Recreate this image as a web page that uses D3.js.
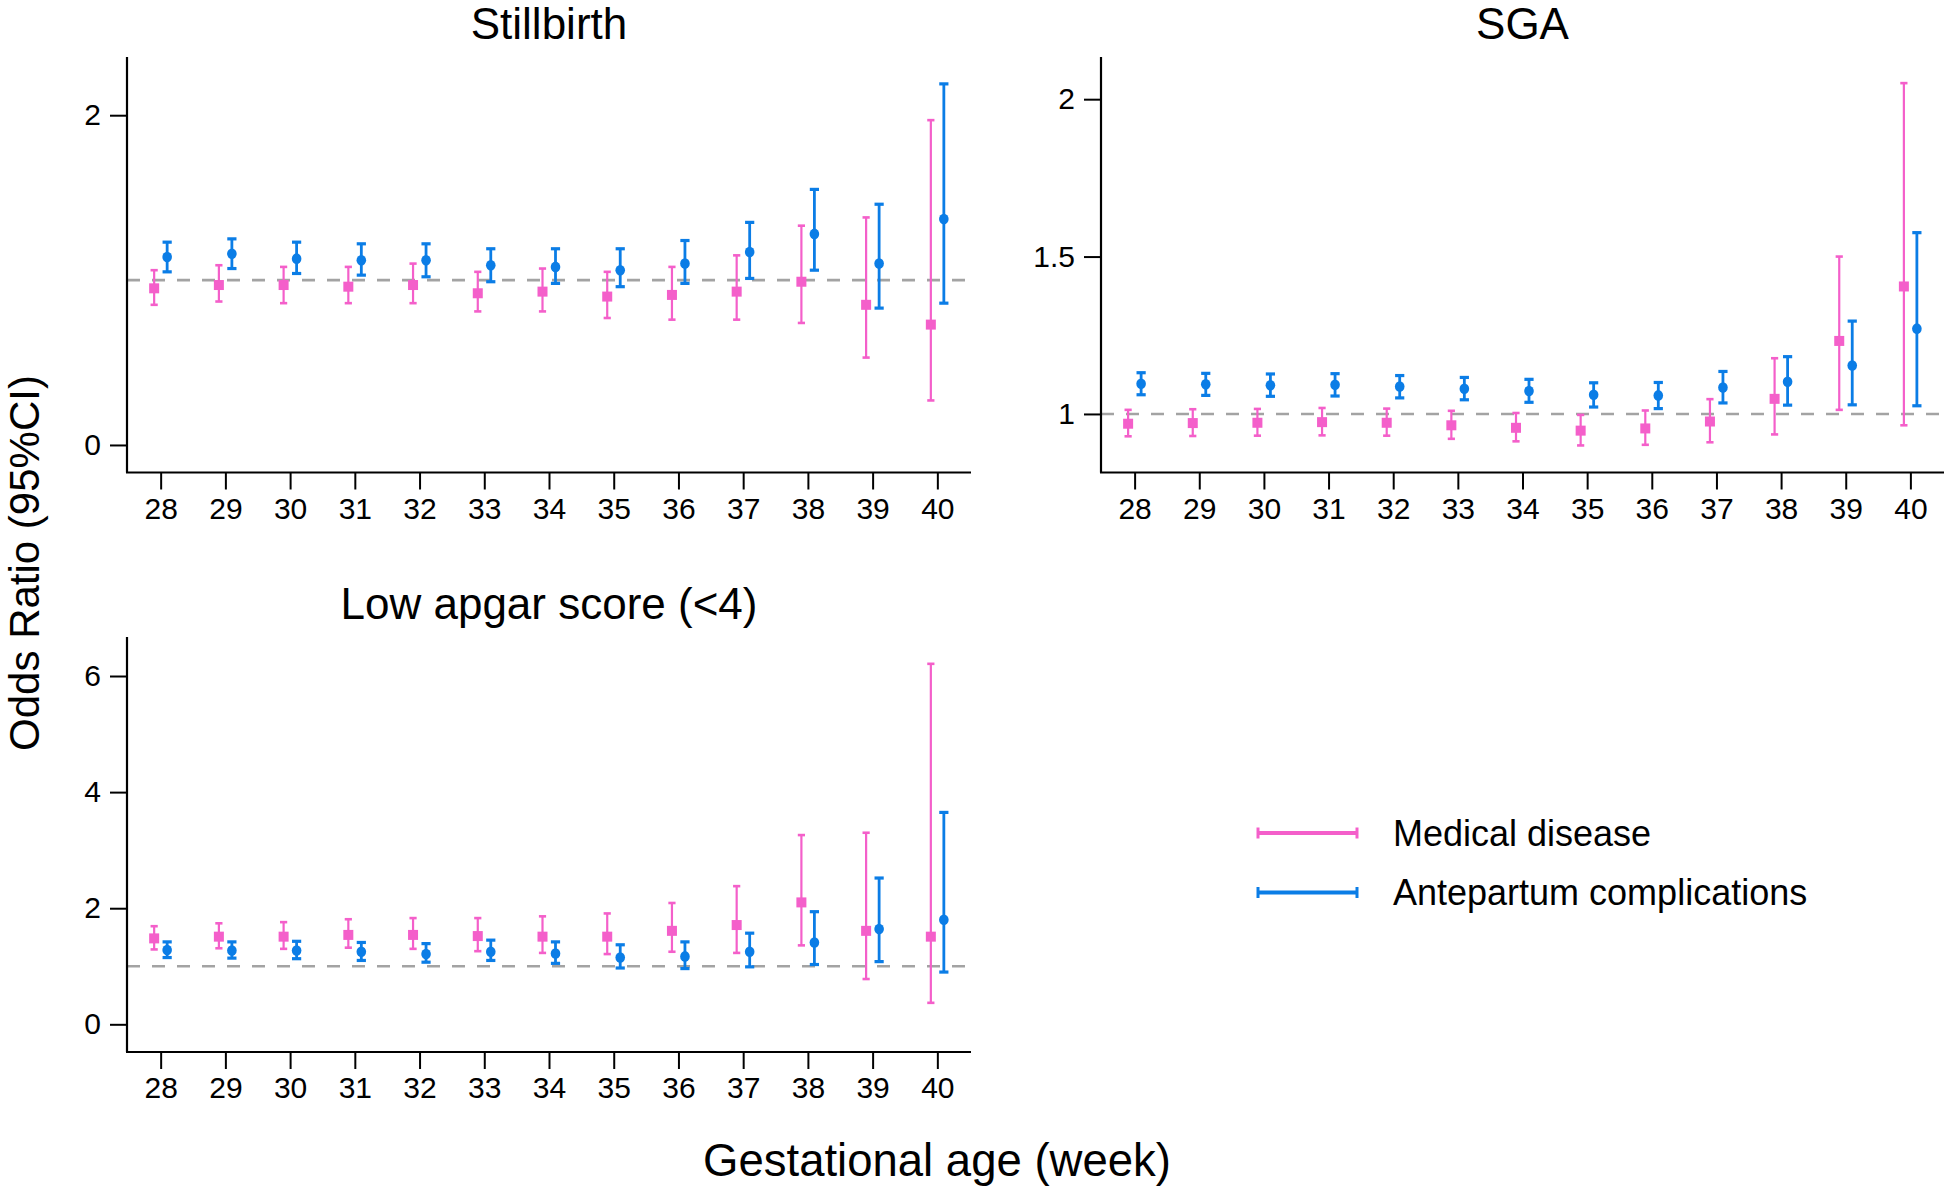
<!DOCTYPE html>
<html>
<head>
<meta charset="utf-8">
<script src="https://cdn.jsdelivr.net/npm/d3@7"></script>
<style>
  html, body { margin: 0; padding: 0; background: #fff; }
  svg text { font-family: "Liberation Sans", Arial, Helvetica, sans-serif; fill: #000; }
</style>
</head>
<body>
<svg id="chart" width="1952" height="1188"></svg>
<script>
// ---------------- DATA ----------------
const weeks = [28, 29, 30, 31, 32, 33, 34, 35, 36, 37, 38, 39, 40];
const seriesNames = ["Medical disease", "Antepartum complications"];

// Stillbirth
const stillMedOR = [0.95, 0.97, 0.97, 0.96, 0.97, 0.92, 0.93, 0.90, 0.91, 0.93, 0.99, 0.85, 0.73];
const stillMedLo = [0.85, 0.87, 0.86, 0.86, 0.86, 0.81, 0.81, 0.77, 0.76, 0.76, 0.74, 0.53, 0.27];
const stillMedHi = [1.06, 1.09, 1.08, 1.08, 1.10, 1.05, 1.07, 1.05, 1.08, 1.15, 1.33, 1.38, 1.97];
const stillAntOR = [1.14, 1.16, 1.13, 1.12, 1.12, 1.09, 1.08, 1.06, 1.10, 1.17, 1.28, 1.10, 1.37];
const stillAntLo = [1.05, 1.07, 1.04, 1.03, 1.02, 0.99, 0.98, 0.96, 0.98, 1.01, 1.06, 0.83, 0.86];
const stillAntHi = [1.23, 1.25, 1.23, 1.22, 1.22, 1.19, 1.19, 1.19, 1.24, 1.35, 1.55, 1.46, 2.19];

// SGA
const sgaMedOR = [0.969, 0.971, 0.972, 0.974, 0.972, 0.964, 0.956, 0.947, 0.954, 0.976, 1.048, 1.232, 1.405];
const sgaMedLo = [0.929, 0.930, 0.931, 0.932, 0.931, 0.921, 0.913, 0.900, 0.902, 0.910, 0.935, 1.013, 0.964];
const sgaMedHi = [1.013, 1.015, 1.016, 1.019, 1.017, 1.010, 1.003, 0.997, 1.011, 1.047, 1.177, 1.500, 2.051];
const sgaAntOR = [1.096, 1.094, 1.091, 1.093, 1.087, 1.080, 1.073, 1.061, 1.059, 1.084, 1.102, 1.154, 1.271];
const sgaAntLo = [1.061, 1.059, 1.056, 1.057, 1.051, 1.045, 1.037, 1.022, 1.017, 1.035, 1.028, 1.029, 1.026];
const sgaAntHi = [1.131, 1.129, 1.127, 1.128, 1.122, 1.116, 1.110, 1.099, 1.100, 1.135, 1.182, 1.295, 1.576];

// Low apgar score (<4)
const apgMedOR = [1.48, 1.51, 1.51, 1.54, 1.54, 1.52, 1.51, 1.51, 1.61, 1.71, 2.10, 1.61, 1.51];
const apgMedLo = [1.29, 1.31, 1.30, 1.32, 1.30, 1.26, 1.23, 1.21, 1.25, 1.23, 1.36, 0.78, 0.37];
const apgMedHi = [1.69, 1.74, 1.76, 1.81, 1.83, 1.83, 1.86, 1.91, 2.09, 2.38, 3.26, 3.30, 6.21];
const apgAntOR = [1.28, 1.27, 1.27, 1.25, 1.21, 1.25, 1.22, 1.15, 1.17, 1.25, 1.41, 1.64, 1.80];
const apgAntLo = [1.15, 1.14, 1.13, 1.10, 1.07, 1.10, 1.05, 0.97, 0.96, 0.99, 1.03, 1.08, 0.90];
const apgAntHi = [1.42, 1.42, 1.43, 1.41, 1.39, 1.45, 1.42, 1.37, 1.42, 1.57, 1.94, 2.52, 3.65];

// tick labels
const xTicks = weeks;
const yTicksStill = [0, 2];
const yTicksSGA = [1, 1.5, 2];
const yTicksApgar = [0, 2, 4, 6];

// ---------------- STYLE / LAYOUT ----------------
const PINK = "#f45fca";
const BLUE = "#0b7de6";
const FONT_TICK = 30;
const FONT_TITLE = 44;

const panels = [
  { title: "Stillbirth", left: 127, right: 971, top: 57, bottom: 472.5, ydom: [-0.167, 2.353], yticks: yTicksStill,
    med: [stillMedOR, stillMedLo, stillMedHi], ant: [stillAntOR, stillAntLo, stillAntHi] },
  { title: "SGA", left: 1101, right: 1944, top: 57, bottom: 472.5, ydom: [0.814, 2.134], yticks: yTicksSGA,
    med: [sgaMedOR, sgaMedLo, sgaMedHi], ant: [sgaAntOR, sgaAntLo, sgaAntHi] },
  { title: "Low apgar score (<4)", left: 127, right: 971, top: 637, bottom: 1052, ydom: [-0.477, 6.672], yticks: yTicksApgar,
    med: [apgMedOR, apgMedLo, apgMedHi], ant: [apgAntOR, apgAntLo, apgAntHi] }
];

const svg = d3.select("#chart");

panels.forEach(p => {
  const x = d3.scaleLinear().domain([27.48, 40.52]).range([p.left, p.right]);
  const y = d3.scaleLinear().domain(p.ydom).range([p.bottom, p.top]);
  const g = svg.append("g");

  // reference line at OR = 1
  g.append("line")
    .attr("x1", p.left).attr("x2", p.right)
    .attr("y1", y(1)).attr("y2", y(1))
    .attr("stroke", "#a3a3a3").attr("stroke-width", 2.6)
    .attr("stroke-dasharray", "13,12");

  // axes
  const xAxis = d3.axisBottom(x).tickValues(xTicks).tickFormat(d3.format("d"))
    .tickSize(17).tickSizeOuter(0).tickPadding(8);
  const yAxis = d3.axisLeft(y).tickValues(p.yticks).tickFormat(d => String(d))
    .tickSize(17).tickSizeOuter(0).tickPadding(9);

  const gx = g.append("g").attr("transform", `translate(0,${p.bottom})`).call(xAxis);
  const gy = g.append("g").attr("transform", `translate(${p.left},0)`).call(yAxis);
  [gx, gy].forEach(a => {
    a.select(".domain").attr("stroke", "#000").attr("stroke-width", 2.2);
    a.selectAll(".tick line").attr("stroke", "#000").attr("stroke-width", 2);
    a.selectAll(".tick text").style("font-size", FONT_TICK + "px")
      .style("font-family", '"Liberation Sans", Arial, sans-serif').attr("fill", "#000");
  });
  gy.select(".domain").attr("d", `M0,${p.top}V${p.bottom}`);
  gx.select(".domain").attr("d", `M${p.left - 1},0H${p.right}`);

  // title
  g.append("text")
    .attr("x", (p.left + p.right) / 2).attr("y", p.top - 18)
    .attr("text-anchor", "middle").style("font-size", FONT_TITLE + "px")
    .text(p.title);

  // series
  const series = [
    { vals: p.med, color: PINK, dx: -6.5, sw: 2.2, cap: 3.6, shape: "square" },
    { vals: p.ant, color: BLUE, dx: 6.5, sw: 2.8, cap: 4.6, shape: "circle" }
  ];
  series.forEach(s => {
    const [or, lo, hi] = s.vals;
    const rows = weeks.map((w, i) => ({ w, or: or[i], lo: lo[i], hi: hi[i] }));
    const sg = g.append("g");
    const eb = sg.selectAll("g.eb").data(rows).join("g").attr("class", "eb");
    eb.append("line")
      .attr("x1", d => x(d.w) + s.dx).attr("x2", d => x(d.w) + s.dx)
      .attr("y1", d => y(d.lo)).attr("y2", d => y(d.hi))
      .attr("stroke", s.color).attr("stroke-width", s.sw);
    ["lo", "hi"].forEach(k => {
      eb.append("line")
        .attr("x1", d => x(d.w) + s.dx - s.cap).attr("x2", d => x(d.w) + s.dx + s.cap)
        .attr("y1", d => y(d[k])).attr("y2", d => y(d[k]))
        .attr("stroke", s.color).attr("stroke-width", s.sw + 0.4);
    });
    if (s.shape === "square") {
      eb.append("rect")
        .attr("x", d => x(d.w) + s.dx - 5).attr("y", d => y(d.or) - 5)
        .attr("width", 10).attr("height", 10).attr("fill", s.color);
    } else {
      eb.append("ellipse")
        .attr("cx", d => x(d.w) + s.dx).attr("cy", d => y(d.or))
        .attr("rx", 4.8).attr("ry", 5.3).attr("fill", s.color);
    }
  });
});

// axis titles
svg.append("text")
  .attr("transform", "translate(39,563) rotate(-90)")
  .attr("text-anchor", "middle").style("font-size", "42px")
  .text("Odds Ratio (95%CI)");
svg.append("text")
  .attr("x", 937).attr("y", 1176)
  .attr("text-anchor", "middle").style("font-size", "45.5px")
  .text("Gestational age (week)");

// legend
const legendColors = [PINK, BLUE];
const legendY = [833, 892.5];
seriesNames.forEach((name, i) => {
  const lg = svg.append("g");
  const c = legendColors[i], yy = legendY[i];
  lg.append("line").attr("x1", 1258).attr("x2", 1357).attr("y1", yy).attr("y2", yy)
    .attr("stroke", c).attr("stroke-width", 4);
  [1258, 1357].forEach(xx => {
    lg.append("line").attr("x1", xx).attr("x2", xx).attr("y1", yy - 5.5).attr("y2", yy + 5.5)
      .attr("stroke", c).attr("stroke-width", 3);
  });
  lg.append("text").attr("x", 1393).attr("y", yy + 12.5)
    .style("font-size", "36px").text(name);
});
</script>
</body>
</html>
